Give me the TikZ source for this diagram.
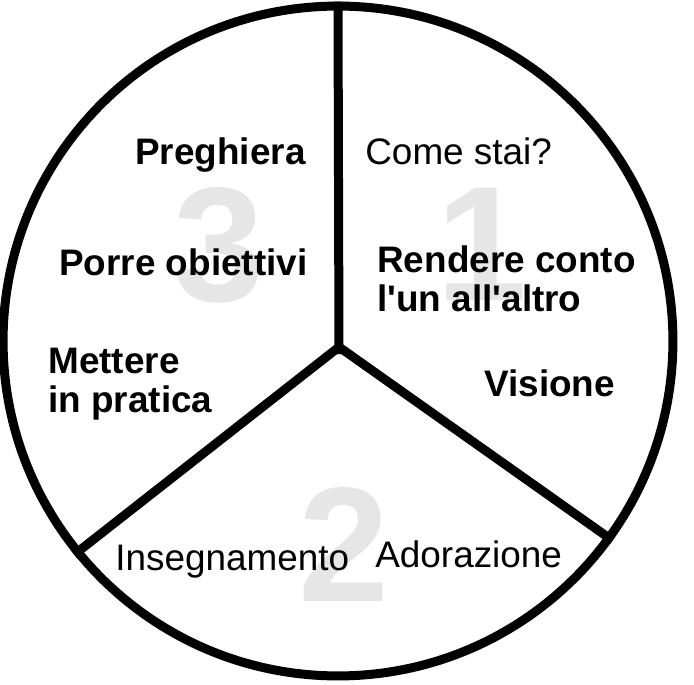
\documentclass[tikz,border=0pt]{standalone}
\usepackage{fontspec}
\setmainfont{Liberation Sans}[Ligatures=TeXOff]
\usepackage{tikz}
\usetikzlibrary{positioning}
\definecolor{digitgray}{HTML}{E6E6E6}

\begin{document}
\begin{tikzpicture}[x=0.02cm, y=0.02cm,
  wheel/.style={draw, line width=0.18cm},
  bignum/.style={inner sep=0, font=\fontsize{93}{93}\selectfont\bfseries, text=digitgray},
  boldtxt/.style={inner sep=0, anchor=base west, align=left, font=\fontsize{21}{22.3}\selectfont\bfseries},
  plaintxt/.style={inner sep=0, anchor=base west, font=\fontsize{21}{22.3}\selectfont}
]
\useasboundingbox (0,0) rectangle (694,684);

% background digits
\node[bignum] (three) at (219,439) {3};
\node[bignum] (one) at (482,440) {1};
\node[bignum] (two) at (344,140) {2};

% wheel
\node[wheel, circle, minimum size=13.4cm, inner sep=0] (ring) at (338,343) {};
\coordinate (hub) at (339,337);
\draw[wheel] (ring.-36) -- (hub) -- (ring.219);
\draw[wheel] (ring.90) -- ([yshift=-4]hub);

% section 3
\node[boldtxt] (prayer) at (135,519) {Preghiera};
\node[boldtxt] (goals) at (59,408) {Porre obiettivi};
\node[boldtxt] (practice) at (48,271) {Mettere\\in pratica};

% section 1
\node[plaintxt] (howru) at (365,519) {Come stai?};
\node[boldtxt] (account) at (377,372) {Rendere conto\\l'un all'altro};
\node[boldtxt] (vision) at (484,287) {Visione};

% section 2
\node[plaintxt] (teach) at (115,113) {Insegnamento};
\node[plaintxt] (worship) at (375,116) {Adorazione};
\end{tikzpicture}
\end{document}
